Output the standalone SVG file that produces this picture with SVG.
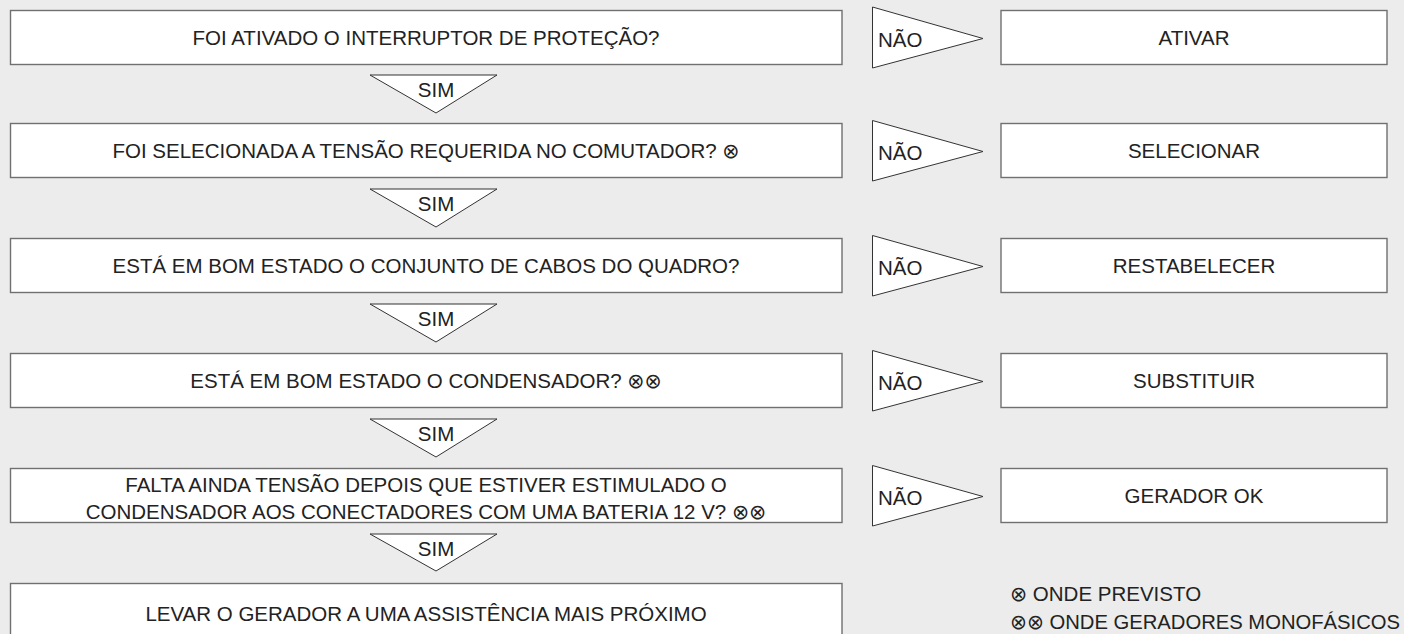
<svg xmlns="http://www.w3.org/2000/svg" width="1404" height="634" viewBox="0 0 1404 634">
<style>
.bg{fill:#ebeceb}
.box{fill:#ffffff;stroke:#707070;stroke-width:1.4}
.tri{fill:#ffffff;stroke:#333333;stroke-width:1}
text{font-family:"Liberation Sans","DejaVu Sans",Arial,sans-serif;font-size:20.5px;fill:#222222}
.c{text-anchor:middle}
</style>
<rect class="bg" x="0" y="0" width="1404" height="634"/>

<g id="q1">
<rect class="box" x="10.5" y="10.5" width="831.5" height="54"/>
<text class="c" x="426" y="45">FOI ATIVADO O INTERRUPTOR DE PROTEÇÃO?</text>
</g>
<g id="a1">
<rect class="box" x="1001" y="10.5" width="386" height="54"/>
<text class="c" x="1194" y="45">ATIVAR</text>
</g>

<g id="q2">
<rect class="box" x="10.5" y="123.5" width="831.5" height="54"/>
<text class="c" x="426" y="158">FOI SELECIONADA A TENSÃO REQUERIDA NO COMUTADOR? ⊗</text>
</g>
<g id="a2">
<rect class="box" x="1001" y="123.5" width="386" height="54"/>
<text class="c" x="1194" y="158">SELECIONAR</text>
</g>

<g id="q3">
<rect class="box" x="10.5" y="238.5" width="831.5" height="54"/>
<text class="c" x="426" y="273">ESTÁ EM BOM ESTADO O CONJUNTO DE CABOS DO QUADRO?</text>
</g>
<g id="a3">
<rect class="box" x="1001" y="238.5" width="386" height="54"/>
<text class="c" x="1194" y="273">RESTABELECER</text>
</g>

<g id="q4">
<rect class="box" x="10.5" y="353.5" width="831.5" height="54"/>
<text class="c" x="426" y="388">ESTÁ EM BOM ESTADO O CONDENSADOR? ⊗⊗</text>
</g>
<g id="a4">
<rect class="box" x="1001" y="353.5" width="386" height="54"/>
<text class="c" x="1194" y="388">SUBSTITUIR</text>
</g>

<g id="q5">
<rect class="box" x="10.5" y="468.5" width="831.5" height="54"/>
<text class="c" x="426" y="491.5">FALTA AINDA TENSÃO DEPOIS QUE ESTIVER ESTIMULADO O</text>
<text class="c" x="426" y="519">CONDENSADOR AOS CONECTADORES COM UMA BATERIA 12 V? ⊗⊗</text>
</g>
<g id="a5">
<rect class="box" x="1001" y="468.5" width="386" height="54"/>
<text class="c" x="1194" y="503">GERADOR OK</text>
</g>

<g id="q6">
<rect class="box" x="10.5" y="583.5" width="831.5" height="56"/>
<text class="c" x="426" y="620.5">LEVAR O GERADOR A UMA ASSISTÊNCIA MAIS PRÓXIMO</text>
</g>

<g id="connectors">
<g id="nao">
<polygon class="tri" points="872.5,7 872.5,68 983,38.5"/>
<text x="878" y="47">NÃO</text>
<polygon class="tri" points="872.5,120.5 872.5,181 983,151.5"/>
<text x="878" y="160">NÃO</text>
<polygon class="tri" points="872.5,235.5 872.5,296 983,266.5"/>
<text x="878" y="275">NÃO</text>
<polygon class="tri" points="872.5,350.5 872.5,411 983,381.5"/>
<text x="878" y="390">NÃO</text>
<polygon class="tri" points="872.5,465.5 872.5,526 983,496.5"/>
<text x="878" y="505">NÃO</text>
</g>
<g id="sim">
<polygon class="tri" points="370,75 497,75 436,113"/>
<text class="c" x="436" y="97">SIM</text>
<polygon class="tri" points="370,189 497,189 436,227"/>
<text class="c" x="436" y="211">SIM</text>
<polygon class="tri" points="370,304 497,304 436,342"/>
<text class="c" x="436" y="326">SIM</text>
<polygon class="tri" points="370,419 497,419 436,457"/>
<text class="c" x="436" y="441">SIM</text>
<polygon class="tri" points="370,534 497,534 436,571"/>
<text class="c" x="436" y="556">SIM</text>
</g>
</g>

<g id="legend">
<text x="1010" y="601">⊗ ONDE PREVISTO</text>
<text x="1010" y="629" textLength="390" lengthAdjust="spacingAndGlyphs">⊗⊗ ONDE GERADORES MONOFÁSICOS</text>
</g>
</svg>
